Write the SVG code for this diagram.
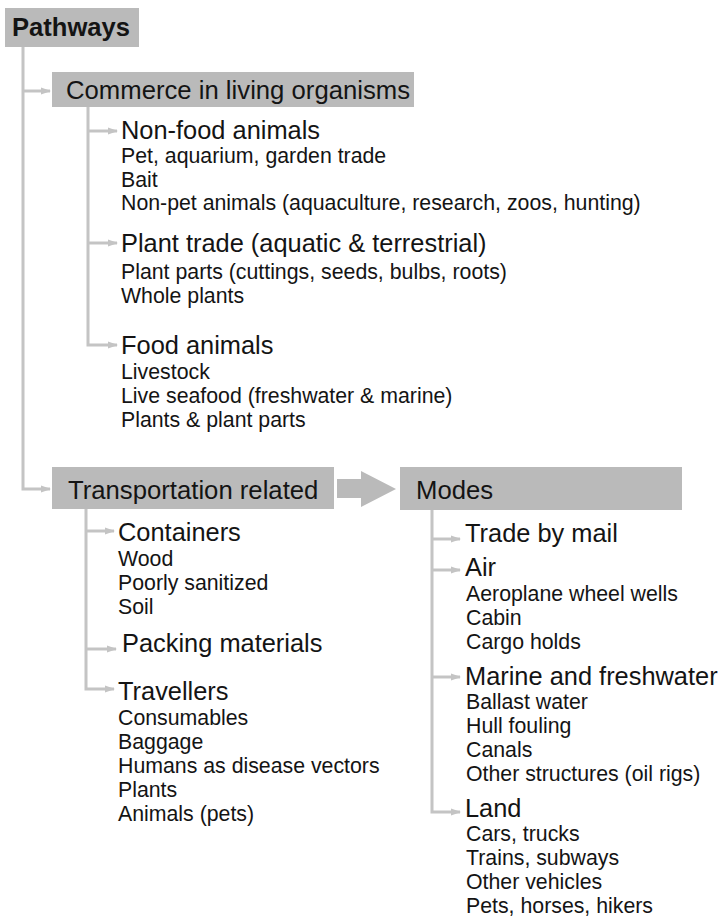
<svg xmlns="http://www.w3.org/2000/svg" width="725" height="918" viewBox="0 0 725 918">
<style>
  .box{fill:#bababa}
  .ln{fill:none;stroke:#c4c4c4;stroke-width:3}
  text{font-family:"Liberation Sans",Arial,sans-serif;fill:#141414}
  .h{font-size:25.7px}
  .hb{font-size:25.6px;font-weight:bold}
  .s{font-size:25.4px}
  .i{font-size:21.3px}
</style>
<defs>
  <marker id="ah" markerUnits="userSpaceOnUse" markerWidth="10" markerHeight="8" refX="9" refY="4" orient="auto">
    <path d="M0,0.5 L10,4 L0,7.5 z" fill="#c4c4c4"/>
  </marker>
</defs>
<rect width="725" height="918" fill="#fff"/>
<g id="connectors">
  <path class="ln" d="M23,47 V489 H50" marker-end="url(#ah)"/>
  <path class="ln" d="M23,91 H50" marker-end="url(#ah)"/>
  <path class="ln" d="M88,107 V345 H117" marker-end="url(#ah)"/>
  <path class="ln" d="M88,131 H117" marker-end="url(#ah)"/>
  <path class="ln" d="M88,243 H117" marker-end="url(#ah)"/>
  <path class="ln" d="M86,509 V689 H114" marker-end="url(#ah)"/>
  <path class="ln" d="M86,531 H114" marker-end="url(#ah)"/>
  <path class="ln" d="M86,649 H116" marker-end="url(#ah)"/>
  <path class="ln" d="M432,510 V812 H460" marker-end="url(#ah)"/>
  <path class="ln" d="M432,539 H460" marker-end="url(#ah)"/>
  <path class="ln" d="M432,570 H460" marker-end="url(#ah)"/>
  <path class="ln" d="M432,677 H460" marker-end="url(#ah)"/>
  <polygon class="box" points="337,479 361,479 361,471 396,489 361,507 361,498 337,498"/>
</g>
<g id="pathways">
  <rect class="box" x="5" y="8" width="134" height="39"/>
  <text class="hb" x="12" y="36">Pathways</text>
</g>
<g id="commerce">
  <rect class="box" x="52" y="72" width="362" height="35"/>
  <text class="h" x="66" y="99">Commerce in living organisms</text>
</g>
<g id="nonfood">
  <text class="s" x="121" y="139">Non-food animals</text>
  <text class="i" x="121" y="163">Pet, aquarium, garden trade</text>
  <text class="i" x="121" y="187">Bait</text>
  <text class="i" x="121" y="210">Non-pet animals (aquaculture, research, zoos, hunting)</text>
</g>
<g id="plant">
  <text class="s" x="121" y="252">Plant trade (aquatic &amp; terrestrial)</text>
  <text class="i" x="121" y="279">Plant parts (cuttings, seeds, bulbs, roots)</text>
  <text class="i" x="121" y="303">Whole plants</text>
</g>
<g id="food">
  <text class="s" x="121" y="354">Food animals</text>
  <text class="i" x="121" y="379">Livestock</text>
  <text class="i" x="121" y="403">Live seafood (freshwater &amp; marine)</text>
  <text class="i" x="121" y="427">Plants &amp; plant parts</text>
</g>
<g id="transport">
  <rect class="box" x="52" y="467" width="282" height="42"/>
  <text class="h" x="68" y="499">Transportation related</text>
</g>
<g id="modes">
  <rect class="box" x="400" y="467" width="282" height="43"/>
  <text class="h" x="416" y="499">Modes</text>
</g>
<g id="containers">
  <text class="s" x="118" y="541">Containers</text>
  <text class="i" x="118" y="566">Wood</text>
  <text class="i" x="118" y="590">Poorly sanitized</text>
  <text class="i" x="118" y="614">Soil</text>
</g>
<g id="packing">
  <text class="s" x="122" y="652">Packing materials</text>
</g>
<g id="travellers">
  <text class="s" x="118" y="700">Travellers</text>
  <text class="i" x="118" y="725">Consumables</text>
  <text class="i" x="118" y="749">Baggage</text>
  <text class="i" x="118" y="773">Humans as disease vectors</text>
  <text class="i" x="118" y="797">Plants</text>
  <text class="i" x="118" y="821">Animals (pets)</text>
</g>
<g id="mail">
  <text class="s" x="465" y="542">Trade by mail</text>
</g>
<g id="air">
  <text class="s" x="465" y="576">Air</text>
  <text class="i" x="466" y="601">Aeroplane wheel wells</text>
  <text class="i" x="466" y="625">Cabin</text>
  <text class="i" x="466" y="649">Cargo holds</text>
</g>
<g id="marine">
  <text class="s" x="465" y="685">Marine and freshwater</text>
  <text class="i" x="466" y="709">Ballast water</text>
  <text class="i" x="466" y="733">Hull fouling</text>
  <text class="i" x="466" y="757">Canals</text>
  <text class="i" x="466" y="781">Other structures (oil rigs)</text>
</g>
<g id="land">
  <text class="s" x="465" y="817">Land</text>
  <text class="i" x="466" y="841">Cars, trucks</text>
  <text class="i" x="466" y="865">Trains, subways</text>
  <text class="i" x="466" y="889">Other vehicles</text>
  <text class="i" x="466" y="913">Pets, horses, hikers</text>
</g>
</svg>
